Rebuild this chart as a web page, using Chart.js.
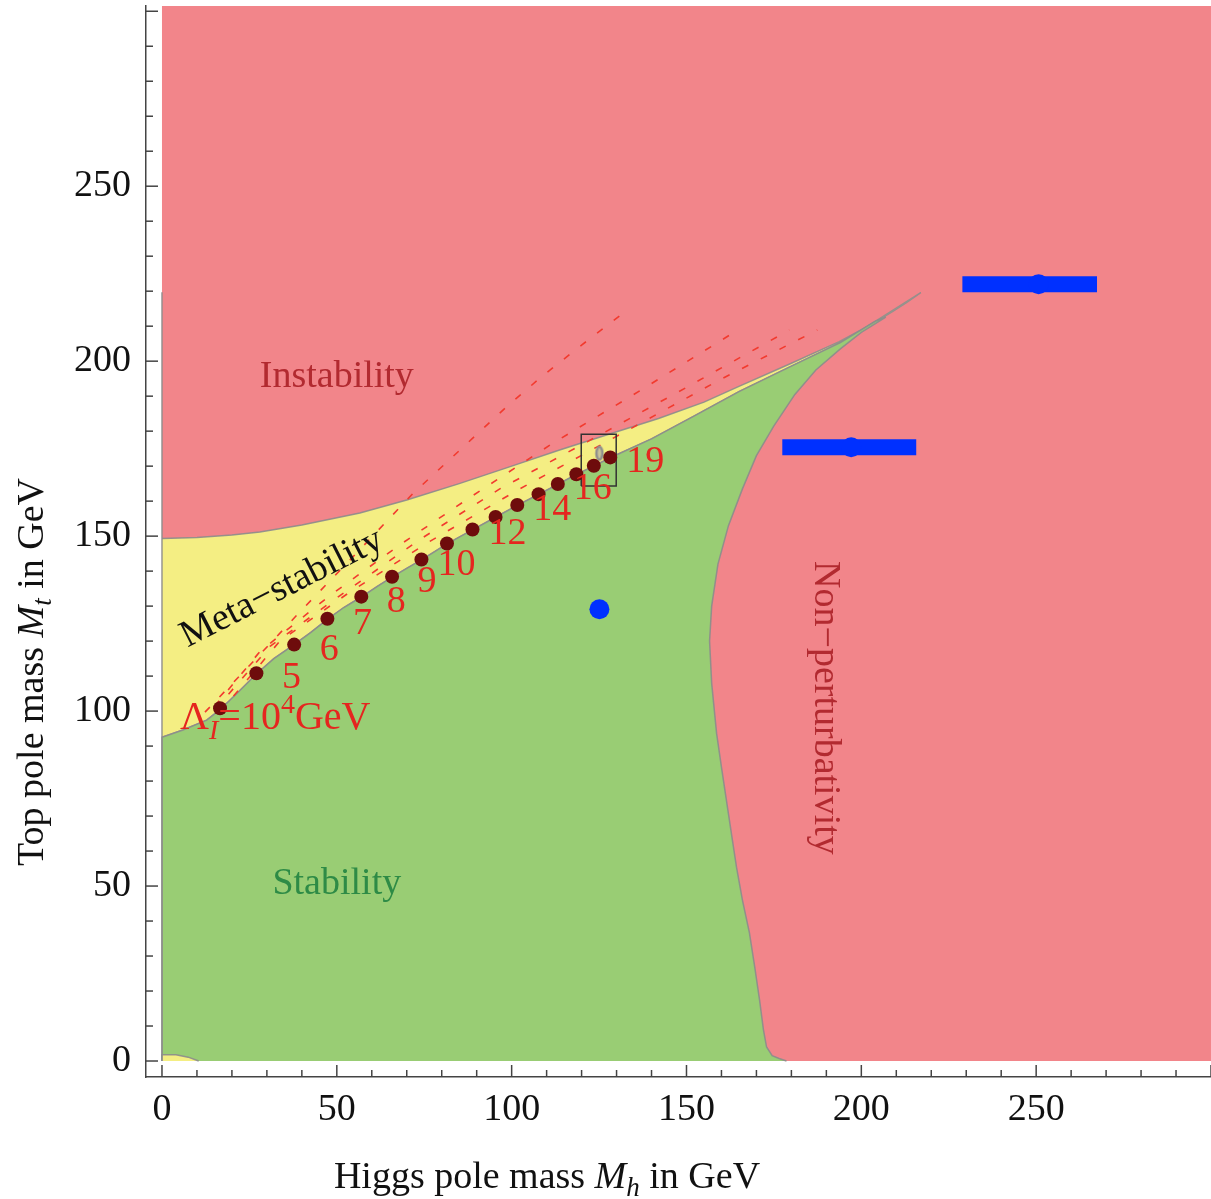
<!DOCTYPE html>
<html>
<head>
<meta charset="utf-8">
<script src="https://cdn.jsdelivr.net/npm/chart.js@4.4.1/dist/chart.umd.min.js"></script>
<style>
  html, body { margin: 0; padding: 0; background: #fff; overflow: hidden; }
  #wrap { width: 1211px; height: 1199px; position: relative; }
</style>
</head>
<body>
<div id="wrap"><canvas id="chart"></canvas></div>
<script>
// plot limits in GeV (Higgs mass on x, top mass on y)
const MH_MAX = 300;
const MT_MAX = 301.5;
const AXIS_GAP = 4.57;   // frame sits a little outside the filled area

// region boundaries, [Mh, Mt]
const instabilityEdge = [[0,149.3],[10,149.6],[20,150.3],[28,151.2],[40,153.2],[56.6,156.6],[70,160.3],[85,165],[100,170],[113.7,174.6],[128,179.2],[142,183.6],[155,188.3],[165,192.8],[180,199.4],[193.7,205.6],[203,210.6],[209,214.2],[213,216.8],[217,219.6]];
const stabilityEdge = [[0,92.5],[6,94.6],[12.8,97.4],[16.6,100.4],[22,105.6],[27,110.6],[32,115],[37.8,119],[42.5,122.4],[47.3,126.2],[52,129.6],[57,132.6],[61.5,135.6],[65.8,138.3],[70,140.8],[74.2,143.2],[78,145.6],[81.5,147.8],[88.8,151.8],[95.4,155.4],[101.6,158.8],[107.7,161.9],[113.2,164.8],[118.5,167.6],[123.5,170],[128.2,172.4],[140,177.8],[152,184.2],[165,191.3],[180,198.6],[194,205.3],[204,211.4]];
const perturbativityEdge = [[207,212.6],[200,208.2],[194,203.5],[187,197.5],[181,190.5],[175,181.5],[170,173],[166,163.5],[162,153],[159,142],[157.2,130],[156.6,120],[157.2,108],[158.6,93.7],[160,84],[161.4,74.6],[163,64],[164.3,55.4],[166,46],[168,36.6],[169.5,27],[170.9,17.4],[172,9],[172.9,4],[174.5,1.5],[176.5,0.7],[178.6,0]];
const cornerBlob = [[0,0],[0,1.8],[4,1.8],[7.5,1.1],[10.5,0]];
const leftEdge = [[0,0],[0,219.7]];

// instability scale Lambda_I = 10^n GeV along the stability edge
const lambdaExp = [4,5,6,7,8,9,10,11,12,13,14,15,16,17,18,19];
const lambdaMh = [16.6,27.0,37.8,47.3,57.0,65.8,74.2,81.5,88.8,95.4,101.6,107.7,113.2,118.5,123.5,128.2];
const lambdaMt = [100.8,110.8,119.0,126.4,132.7,138.4,143.3,147.9,151.9,155.5,158.9,162.0,164.9,167.7,170.1,172.5];
const labelledExp = [5,6,7,8,9,10,12,14,16,19];

// dashed contours
const dashA = [[12.3,99.7],[25.1,113.1],[39.4,128.3],[55.6,145.1],[71.8,162.2],[98.5,186.9],[108,195.1],[120,204.6],[132.3,214]];
const dashB = [[15.1,101.4],[28,117],[48,133],[68,147.5],[88,161],[111.7,176.5],[136.6,191.5],[163.7,208.3]];
const dashC = [[15.1,100.3],[30.9,118.5],[50.9,133],[73.7,149],[96.6,163.5],[121.7,177],[150.9,193],[179.4,208.9]];
const dashD = [[16.6,99.7],[33.7,120],[53.7,134],[76.6,148.5],[102.3,163.5],[130.9,179],[159.4,194.6],[187.4,208.9]];

// experimental box and ellipse
const boxMh = [119.9, 129.9];
const boxMt = [164.3, 179.1];
const ellipseMh = 125.1;
const ellipseMt = 173.7;

// blue points with horizontal bars
const blueMh = [125.1, 197.1, 250.7];
const blueMt = [129.1, 175.4, 222.0];
const blueLo = [null, 177.4, 228.9];
const blueHi = [null, 215.7, 267.4];

const SERIF = '"Liberation Serif", "DejaVu Serif", serif';
const RED_BG = '#f2858a';
const YELLOW = '#f4ee83';
const GREEN = '#99cd74';
const EDGE = 'rgba(140,140,140,0.9)';
const DASH_RED = '#f23a2e';
const BLUE = '#0030ff';

const pts = arr => arr.map(([x, y]) => ({x, y}));

function region(data, color, order, border) {
  return {
    data: pts(data), backgroundColor: color, fill: 'shape',
    borderColor: border || 'rgba(0,0,0,0)', borderWidth: border ? 1.5 : 0,
    pointRadius: 0, order
  };
}
function edge(data, color, width, order, dash) {
  return {
    data: pts(data), borderColor: color, borderWidth: width, borderDash: dash || [],
    fill: false, pointRadius: 0, order
  };
}

const ellipseImg = document.createElement('canvas');
ellipseImg.width = 12; ellipseImg.height = 18;
(() => {
  const c = ellipseImg.getContext('2d');
  c.strokeStyle = '#8e8e8e'; c.fillStyle = 'rgba(170,170,170,0.6)'; c.lineWidth = 2.5;
  c.beginPath(); c.ellipse(6, 9, 3, 6.5, 0, 0, Math.PI * 2); c.fill(); c.stroke();
})();

const redArea = [[0,0],[MH_MAX,0],[MH_MAX,MT_MAX],[0,MT_MAX]];
const yellowArea = instabilityEdge.concat(stabilityEdge.slice().reverse());
const greenArea = [[0,0]].concat(stabilityEdge, perturbativityEdge);

const datasets = [
  region(redArea, RED_BG, 100),
  region(yellowArea, YELLOW, 90, EDGE),
  region(greenArea, GREEN, 80, EDGE),
  region(cornerBlob, YELLOW, 79, EDGE),
  edge(leftEdge, EDGE, 1.5, 78),
  edge(dashA, DASH_RED, 1.6, 60, [7, 14]),
  edge(dashB, DASH_RED, 1.6, 60, [7, 14]),
  edge(dashC, DASH_RED, 1.6, 60, [7, 14]),
  edge(dashD, DASH_RED, 1.6, 60, [7, 14]),
  edge([[boxMh[0],boxMt[0]],[boxMh[1],boxMt[0]],[boxMh[1],boxMt[1]],[boxMh[0],boxMt[1]],[boxMh[0],boxMt[0]]], '#333', 1.5, 50),
  { data: [{x: ellipseMh, y: ellipseMt}], showLine: false, pointStyle: ellipseImg, pointRadius: 8, order: 49 },
  { data: lambdaMh.map((x, i) => ({x, y: lambdaMt[i]})), showLine: false, pointRadius: 7,
    pointBackgroundColor: '#6e0c0c', pointBorderWidth: 0, order: 40 }
];
blueMh.forEach((x, i) => {
  if (blueLo[i] === null) return;
  datasets.push({ data: [{x: blueLo[i], y: blueMt[i]}, {x: blueHi[i], y: blueMt[i]}],
    borderColor: BLUE, borderWidth: 16, borderCapStyle: 'butt', pointRadius: 0, fill: false, order: 30 });
});
datasets.push({ data: blueMh.map((x, i) => ({x, y: blueMt[i]})), showLine: false, pointRadius: 10,
  pointBackgroundColor: BLUE, pointBorderWidth: 0, order: 29 });

function drawRich(ctx, parts, x, y, align) {
  let total = 0;
  parts.forEach(p => { ctx.font = p[1]; total += ctx.measureText(p[0]).width; });
  let cx = align === 'center' ? x - total / 2 : x;
  parts.forEach(p => {
    ctx.font = p[1];
    ctx.fillText(p[0], cx, y + (p[2] || 0));
    cx += ctx.measureText(p[0]).width;
  });
}

const frameTicks = {
  id: 'frameTicks',
  afterDraw(chart) {
    const {ctx, scales: {x, y}, chartArea} = chart;
    ctx.save();
    ctx.strokeStyle = '#444';
    ctx.lineWidth = 1.5;
    for (let v = 0; v <= 300; v += 10) {
      const len = v % 50 === 0 ? 12 : 7;
      const px = x.getPixelForValue(v);
      ctx.beginPath(); ctx.moveTo(px, chartArea.bottom); ctx.lineTo(px, chartArea.bottom - len); ctx.stroke();
      const py = y.getPixelForValue(v);
      ctx.beginPath(); ctx.moveTo(chartArea.left, py); ctx.lineTo(chartArea.left + len, py); ctx.stroke();
    }
    ctx.restore();
  }
};

const notes = {
  id: 'notes',
  afterDatasetsDraw(chart) {
    const {ctx, scales: {x, y}} = chart;
    const F38 = '38px ' + SERIF;
    ctx.save();
    ctx.textAlign = 'center';
    ctx.textBaseline = 'middle';

    ctx.font = F38;
    ctx.fillStyle = '#b22a30';
    ctx.fillText('Instability', x.getPixelForValue(50), y.getPixelForValue(195.4));
    ctx.fillStyle = '#2e8b46';
    ctx.fillText('Stability', x.getPixelForValue(50), y.getPixelForValue(50.6));

    ctx.save();
    ctx.translate(x.getPixelForValue(34.3), y.getPixelForValue(135.1));
    ctx.rotate(-27 * Math.PI / 180);
    ctx.fillStyle = '#111';
    ctx.fillText('Meta\u2212stability', 0, 0);
    ctx.restore();

    ctx.save();
    ctx.translate(x.getPixelForValue(189.7), y.getPixelForValue(100.9));
    ctx.rotate(Math.PI / 2);
    ctx.fillStyle = '#b22a30';
    ctx.fillText('Non\u2212perturbativity', 0, 0);
    ctx.restore();

    // exponent labels next to the dots
    ctx.fillStyle = '#e5261f';
    ctx.font = '38px ' + SERIF;
    labelledExp.forEach(n => {
      const i = lambdaExp.indexOf(n);
      ctx.fillText(String(n), x.getPixelForValue(lambdaMh[i]) + 35, y.getPixelForValue(lambdaMt[i]) + 5);
    });
    ctx.textAlign = 'left';
    ctx.textBaseline = 'alphabetic';
    drawRich(ctx, [
      ['\u039B', '40px ' + SERIF],
      ['I', 'italic 28px ' + SERIF, 10],
      ['=10', '40px ' + SERIF],
      ['4', '28px ' + SERIF, -16],
      ['GeV', '40px ' + SERIF]
    ], 180, 729);
    ctx.restore();
  },
  afterDraw(chart) {
    const ctx = chart.ctx;
    const F = '38px ' + SERIF, FI = 'italic 38px ' + SERIF, FS = 'italic 27px ' + SERIF;
    ctx.save();
    ctx.fillStyle = '#111';
    ctx.textAlign = 'left';
    ctx.textBaseline = 'alphabetic';
    drawRich(ctx, [['Higgs pole mass ', F], ['M', FI], ['h', FS, 8], [' in GeV', F]], 547, 1188, 'center');
    ctx.translate(43, 672);
    ctx.rotate(-Math.PI / 2);
    drawRich(ctx, [['Top pole mass ', F], ['M', FI], ['t', FS, 8], [' in GeV', F]], 0, 0, 'center');
    ctx.restore();
  }
};

const tickLabel = v => (v >= 0 && v < 300 && Math.abs(v % 50) < 1e-9) ? String(v) : '';

new Chart(document.getElementById('chart'), {
  type: 'line',
  data: { datasets },
  options: {
    responsive: true,
    maintainAspectRatio: false,
    animation: false,
    events: [],
    layout: { autoPadding: false, padding: { top: 6, right: 0, left: 0, bottom: 0 } },
    plugins: { legend: { display: false }, tooltip: { enabled: false } },
    scales: {
      x: {
        type: 'linear', min: -AXIS_GAP, max: MH_MAX,
        grid: { display: false, drawTicks: false },
        border: { display: true, color: '#444', width: 1.5 },
        ticks: { stepSize: 10, includeBounds: false, autoSkip: false, maxRotation: 0, padding: 10,
          font: { family: SERIF, size: 38 }, color: '#111', callback: tickLabel },
        afterFit: s => { s.height = 122; s.paddingLeft = 0; s.paddingRight = 0; }
      },
      y: {
        type: 'linear', min: -AXIS_GAP, max: MT_MAX,
        grid: { display: false, drawTicks: false },
        border: { display: true, color: '#444', width: 1.5 },
        ticks: { stepSize: 10, includeBounds: false, autoSkip: false, padding: 15,
          font: { family: SERIF, size: 38 }, color: '#111', callback: tickLabel },
        afterFit: s => { s.width = 146; s.paddingTop = 0; s.paddingBottom = 0; }
      }
    }
  },
  plugins: [frameTicks, notes]
});
</script>
</body>
</html>
